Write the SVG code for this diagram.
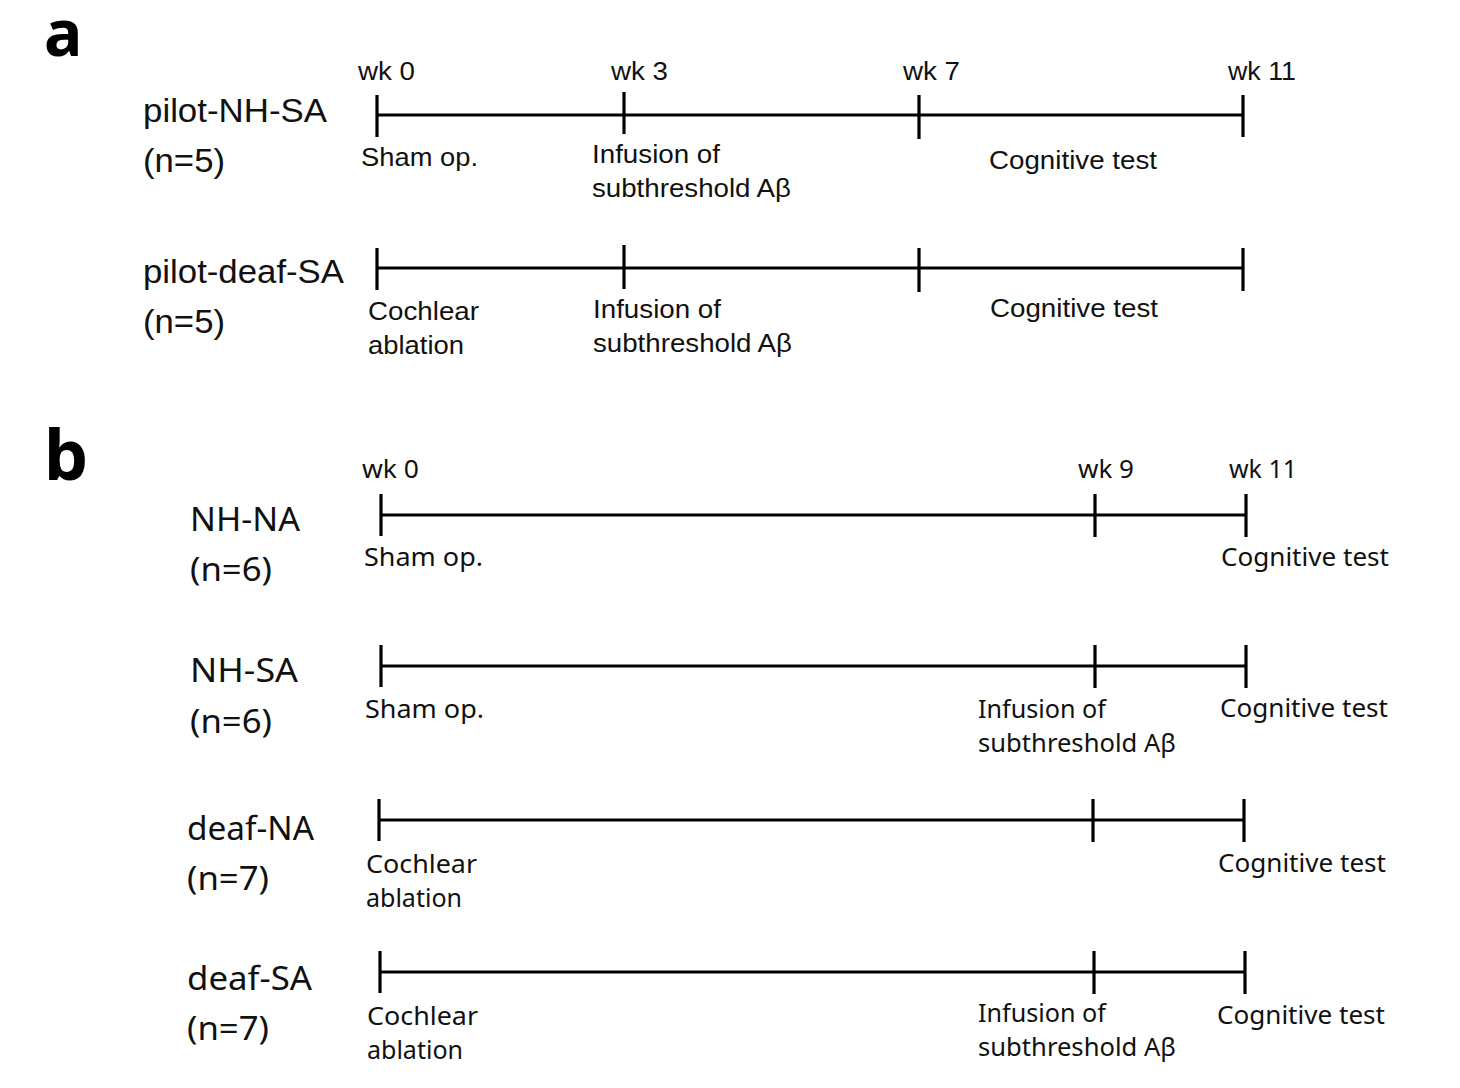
<svg xmlns="http://www.w3.org/2000/svg" width="1460" height="1088" viewBox="0 0 1460 1088">
<style>
.lbl{font-family:"Noto Sans","Open Sans","Liberation Sans",sans-serif;font-weight:bold;fill:#000}
.a{font-family:"Liberation Sans",Arial,sans-serif;fill:#111}
.a1{font-size:33px}
.a2{font-size:26px}
.b{font-family:"Noto Sans","Open Sans","Liberation Sans",sans-serif;fill:#111}
.b1{font-size:32px}
.b2{font-size:25px}
.ln{stroke:#000;stroke-width:3.2;fill:none}
</style>
<rect width="1460" height="1088" fill="#fff"/>
<text class="lbl" x="44" y="56" font-size="64">a</text>
<text class="lbl" x="44" y="480" font-size="70">b</text>

<g id="panel-a-axis">
<text class="a a2" x="358" y="80" textLength="57" lengthAdjust="spacingAndGlyphs">wk 0</text>
<text class="a a2" x="611" y="80" textLength="57" lengthAdjust="spacingAndGlyphs">wk 3</text>
<text class="a a2" x="903" y="80" textLength="57" lengthAdjust="spacingAndGlyphs">wk 7</text>
<text class="a a2" x="1228" y="80" textLength="68" lengthAdjust="spacingAndGlyphs">wk 11</text>
</g>

<g id="connectors">
<path class="ln" d="M377 115H1243M377 95V137M624 92V134M919 95V139M1243 95V137"/>
<path class="ln" d="M377 268H1243M377 248V290M624 245V289M919 248V292M1243 248V291"/>
<path class="ln" d="M381 515H1246M381 494V536M1095 494V537M1246 494V537"/>
<path class="ln" d="M381 666H1246M381 645V687M1095 645V688M1246 645V688"/>
<path class="ln" d="M379 820H1244M379 799V841M1093 799V842M1244 799V842"/>
<path class="ln" d="M380 972H1245M380 951V993M1094 951V994M1245 951V994"/>
</g>

<g id="pilot-NH-SA">
<text class="a a1" x="143" y="122" textLength="184" lengthAdjust="spacingAndGlyphs">pilot-NH-SA</text>
<text class="a a1" x="143" y="172" textLength="82" lengthAdjust="spacingAndGlyphs">(n=5)</text>
<text class="a a2" x="361" y="166" textLength="117" lengthAdjust="spacingAndGlyphs">Sham op.</text>
<text class="a a2" x="592" y="163" textLength="128" lengthAdjust="spacingAndGlyphs">Infusion of</text>
<text class="a a2" x="592" y="197" textLength="199" lengthAdjust="spacingAndGlyphs">subthreshold Aβ</text>
<text class="a a2" x="989" y="169" textLength="168" lengthAdjust="spacingAndGlyphs">Cognitive test</text>
</g>

<g id="pilot-deaf-SA">
<text class="a a1" x="143" y="283" textLength="201" lengthAdjust="spacingAndGlyphs">pilot-deaf-SA</text>
<text class="a a1" x="143" y="333" textLength="82" lengthAdjust="spacingAndGlyphs">(n=5)</text>
<text class="a a2" x="368" y="320" textLength="111" lengthAdjust="spacingAndGlyphs">Cochlear</text>
<text class="a a2" x="368" y="354" textLength="96" lengthAdjust="spacingAndGlyphs">ablation</text>
<text class="a a2" x="593" y="318" textLength="128" lengthAdjust="spacingAndGlyphs">Infusion of</text>
<text class="a a2" x="593" y="352" textLength="199" lengthAdjust="spacingAndGlyphs">subthreshold Aβ</text>
<text class="a a2" x="990" y="317" textLength="168" lengthAdjust="spacingAndGlyphs">Cognitive test</text>
</g>

<g id="panel-b-axis">
<text class="b b2" x="362" y="478" textLength="57" lengthAdjust="spacingAndGlyphs">wk 0</text>
<text class="b b2" x="1078" y="478" textLength="56" lengthAdjust="spacingAndGlyphs">wk 9</text>
<text class="b b2" x="1229" y="478" textLength="68" lengthAdjust="spacingAndGlyphs">wk 11</text>
</g>

<g id="NH-NA">
<text class="b b1" x="190" y="531" textLength="110" lengthAdjust="spacingAndGlyphs">NH-NA</text>
<text class="b b1" x="190" y="581" textLength="82" lengthAdjust="spacingAndGlyphs">(n=6)</text>
<text class="b b2" x="364" y="566" textLength="119" lengthAdjust="spacingAndGlyphs">Sham op.</text>
<text class="b b2" x="1221" y="566" textLength="168" lengthAdjust="spacingAndGlyphs">Cognitive test</text>
</g>

<g id="NH-SA">
<text class="b b1" x="190" y="682" textLength="108" lengthAdjust="spacingAndGlyphs">NH-SA</text>
<text class="b b1" x="190" y="733" textLength="82" lengthAdjust="spacingAndGlyphs">(n=6)</text>
<text class="b b2" x="365" y="718" textLength="119" lengthAdjust="spacingAndGlyphs">Sham op.</text>
<text class="b b2" x="978" y="718" textLength="128" lengthAdjust="spacingAndGlyphs">Infusion of</text>
<text class="b b2" x="978" y="752" textLength="198" lengthAdjust="spacingAndGlyphs">subthreshold Aβ</text>
<text class="b b2" x="1220" y="717" textLength="168" lengthAdjust="spacingAndGlyphs">Cognitive test</text>
</g>

<g id="deaf-NA">
<text class="b b1" x="187" y="840" textLength="127" lengthAdjust="spacingAndGlyphs">deaf-NA</text>
<text class="b b1" x="187" y="890" textLength="82" lengthAdjust="spacingAndGlyphs">(n=7)</text>
<text class="b b2" x="366" y="873" textLength="111" lengthAdjust="spacingAndGlyphs">Cochlear</text>
<text class="b b2" x="366" y="907" textLength="96" lengthAdjust="spacingAndGlyphs">ablation</text>
<text class="b b2" x="1218" y="872" textLength="168" lengthAdjust="spacingAndGlyphs">Cognitive test</text>
</g>

<g id="deaf-SA">
<text class="b b1" x="187" y="990" textLength="125" lengthAdjust="spacingAndGlyphs">deaf-SA</text>
<text class="b b1" x="187" y="1040" textLength="82" lengthAdjust="spacingAndGlyphs">(n=7)</text>
<text class="b b2" x="367" y="1025" textLength="111" lengthAdjust="spacingAndGlyphs">Cochlear</text>
<text class="b b2" x="367" y="1059" textLength="96" lengthAdjust="spacingAndGlyphs">ablation</text>
<text class="b b2" x="978" y="1022" textLength="128" lengthAdjust="spacingAndGlyphs">Infusion of</text>
<text class="b b2" x="978" y="1056" textLength="198" lengthAdjust="spacingAndGlyphs">subthreshold Aβ</text>
<text class="b b2" x="1217" y="1024" textLength="168" lengthAdjust="spacingAndGlyphs">Cognitive test</text>
</g>
</svg>
